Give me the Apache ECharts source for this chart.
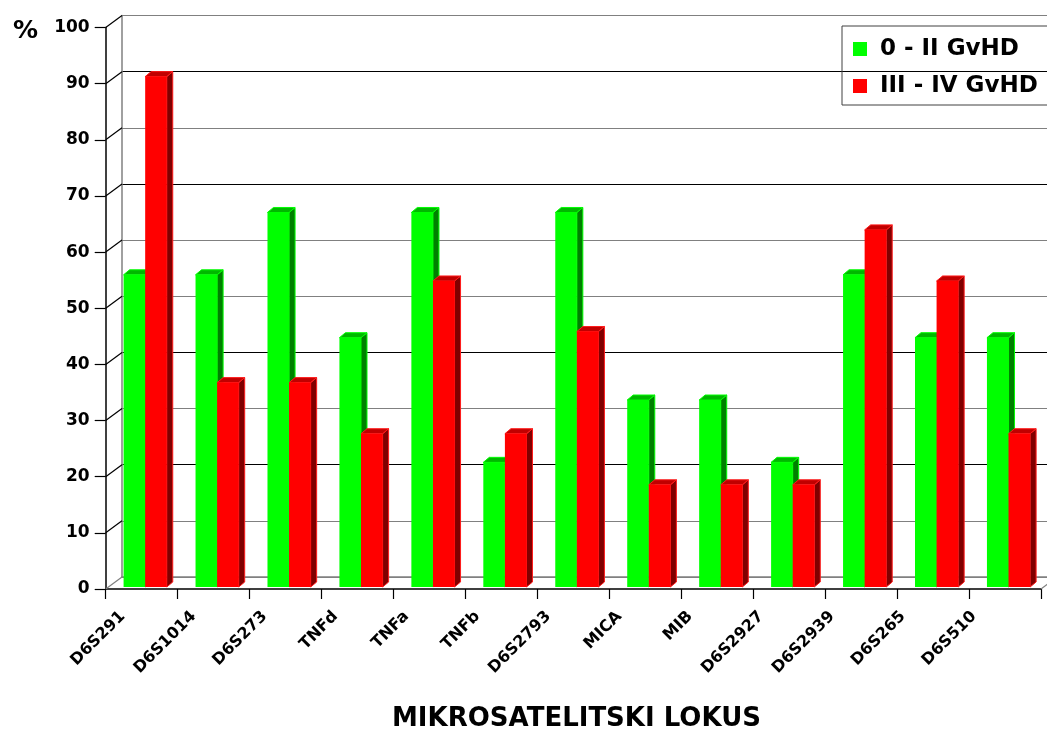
<!DOCTYPE html>
<html>
<head>
<meta charset="utf-8">
<title>Mikrosatelitski lokus</title>
<script src="https://cdn.jsdelivr.net/npm/echarts@6/dist/echarts.min.js"></script>
<style>
  html, body { margin: 0; padding: 0; background: #ffffff; }
  #chart { width: 1047px; height: 729px; }
</style>
</head>
<body>
<div id="chart"></div>
<script>
// Loci on the horizontal axis
const categories = ['D6S291', 'D6S1014', 'D6S273', 'TNFd', 'TNFa', 'TNFb', 'D6S2793',
                    'MICA', 'MIB', 'D6S2927', 'D6S2939', 'D6S265', 'D6S510'];
// Percentages per group
const gvhdLow  = [55.6, 55.6, 66.7, 44.4, 66.7, 22.2, 66.7, 33.3, 33.3, 22.2, 55.6, 44.4, 44.4];
const gvhdHigh = [90.9, 36.4, 36.4, 27.3, 54.5, 27.3, 45.5, 18.2, 18.2, 18.2, 63.6, 54.5, 27.3];
const seriesNames = ['0 - II GvHD', 'III - IV GvHD'];
// Value axis ticks
const yTicks = [0, 10, 20, 30, 40, 50, 60, 70, 80, 90, 100];

// Pseudo-3D geometry (pixels)
const FRONT = { left: 105.7, top: 27.5, width: 935.3, height: 561.5 };
const WALL_DEPTH = [16.3, -12];     // front plane -> back wall
const BAR_SHIFT = [3.5, -2];        // bars sit slightly behind the front plane
const BAR_DEPTH = [6, -5];          // visible thickness of each bar
const BAR_FRACTION = 0.3;           // width of one bar relative to a category slot
const LABEL_SHIFT = 17;

const FONT = 'DejaVu Sans';

const palette = [
  { front: '#00ff00', top: '#00b800', side: '#008000', edge: '#00ff00' },
  { front: '#ff0000', top: '#c00000', side: '#800000', edge: '#ff1a1a' }
];

function barRenderer(slot) {
  const col = palette[slot];
  return function (params, api) {
    const i = api.value(0);
    const v = api.value(1);
    const base = api.coord([i + 0.5, 0]);
    const top = api.coord([i + 0.5, v]);
    const w = api.size([1, 0])[0] * BAR_FRACTION;
    const x0 = base[0] + (slot === 0 ? -w : 0) + BAR_SHIFT[0];
    const x1 = x0 + w;
    const yB = base[1] + BAR_SHIFT[1];
    const yT = top[1] + BAR_SHIFT[1];
    const dx = BAR_DEPTH[0], dy = BAR_DEPTH[1];
    return {
      type: 'group',
      children: [
        { type: 'polygon',
          shape: { points: [[x1, yT], [x1 + dx, yT + dy], [x1 + dx, yB + dy], [x1, yB]] },
          style: { fill: col.side, stroke: col.edge, lineWidth: 1 } },
        { type: 'polygon',
          shape: { points: [[x0, yT], [x0 + dx, yT + dy], [x1 + dx, yT + dy], [x1, yT]] },
          style: { fill: col.top, stroke: col.edge, lineWidth: 1 } },
        { type: 'rect',
          shape: { x: x0, y: yT, width: w, height: yB - yT },
          style: { fill: col.front } }
      ]
    };
  };
}

// Diagonal edges of the side wall and floor
function wallRenderer(params, api) {
  const p = api.coord([api.value(0), api.value(1)]);
  return {
    type: 'line',
    shape: { x1: p[0], y1: p[1], x2: p[0] + WALL_DEPTH[0], y2: p[1] + WALL_DEPTH[1] },
    style: { stroke: api.value(1) === 0 ? '#808080' : '#000000', lineWidth: 1.2 }
  };
}

const wallEdges = yTicks.map(v => [0, v]).concat([[categories.length, 0]]);

const chart = echarts.init(document.getElementById('chart'), null, { renderer: 'canvas' });

const option = {
  backgroundColor: '#ffffff',
  animation: false,
  title: [
    { text: '%', left: 8, top: 14,
      textStyle: { fontFamily: FONT, fontWeight: 'bold', fontSize: 25, color: '#000' } },
    { text: 'MIKROSATELITSKI LOKUS', left: 387, top: 701,
      textStyle: { fontFamily: FONT, fontWeight: 'bold', fontSize: 26, color: '#000' } }
  ],
  legend: {
    orient: 'vertical',
    left: 842, top: 26,
    padding: [11, 40, 7, 11],
    itemGap: 13,
    itemWidth: 14, itemHeight: 14,
    icon: 'rect',
    borderColor: '#404040', borderWidth: 1,
    data: seriesNames,
    textStyle: { fontFamily: FONT, fontWeight: 'bold', fontSize: 23, lineHeight: 24,
                 color: '#000', padding: [0, 0, 0, 8] }
  },
  grid: [
    // front plane: value axis and category ticks
    { left: FRONT.left, top: FRONT.top, width: FRONT.width, height: FRONT.height },
    // back wall with gridlines
    { left: FRONT.left + WALL_DEPTH[0], top: FRONT.top + WALL_DEPTH[1],
      width: FRONT.width, height: FRONT.height },
    // category names
    { left: FRONT.left + LABEL_SHIFT, top: FRONT.top, width: FRONT.width, height: FRONT.height }
  ],
  xAxis: [
    { gridIndex: 0, type: 'value', min: 0, max: categories.length, interval: 1,
      axisLine: { lineStyle: { color: '#000', width: 1.5 } },
      axisTick: { show: true, length: 10, lineStyle: { color: '#000', width: 1.2 } },
      axisLabel: { show: false }, splitLine: { show: false } },
    { gridIndex: 1, type: 'value', min: 0, max: categories.length, interval: 1,
      axisLine: { lineStyle: { color: '#808080', width: 1.5 } },
      axisTick: { show: false }, axisLabel: { show: false }, splitLine: { show: false } },
    { gridIndex: 2, type: 'value', min: 0, max: categories.length, interval: 1,
      axisLine: { show: false }, axisTick: { show: false }, splitLine: { show: false },
      axisLabel: { rotate: 45, margin: 25, fontFamily: FONT, fontWeight: 'bold', fontSize: 16,
                   color: '#000', formatter: v => categories[v] || '' } }
  ],
  yAxis: [
    { gridIndex: 0, type: 'value', min: yTicks[0], max: yTicks[yTicks.length - 1], interval: 10,
      axisLine: { show: true, lineStyle: { color: '#000', width: 1.5 } },
      axisTick: { show: true, length: 11, lineStyle: { color: '#000', width: 1.2 } },
      axisLabel: { margin: 16, fontFamily: FONT, fontWeight: 'bold', fontSize: 17, color: '#000' },
      splitLine: { show: false } },
    { gridIndex: 1, type: 'value', min: yTicks[0], max: yTicks[yTicks.length - 1], interval: 10,
      axisLine: { show: true, lineStyle: { color: '#808080', width: 1.5 } },
      axisTick: { show: false }, axisLabel: { show: false },
      splitLine: { show: true, lineStyle: { width: 1.2,
        color: ['#808080', '#808080', '#000000', '#808080', '#000000', '#808080',
                '#808080', '#000000', '#808080', '#000000', '#808080'] } } },
    { gridIndex: 2, type: 'value', min: 0, max: 100, show: false }
  ],
  series: [
    { name: 'walls', type: 'custom', xAxisIndex: 0, yAxisIndex: 0,
      data: wallEdges, renderItem: wallRenderer, silent: true, z: 1 },
    { name: seriesNames[0], type: 'custom', xAxisIndex: 0, yAxisIndex: 0,
      itemStyle: { color: palette[0].front },
      data: gvhdLow.map((v, i) => [i, v]), renderItem: barRenderer(0), z: 3 },
    { name: seriesNames[1], type: 'custom', xAxisIndex: 0, yAxisIndex: 0,
      itemStyle: { color: palette[1].front },
      data: gvhdHigh.map((v, i) => [i, v]), renderItem: barRenderer(1), z: 3 }
  ]
};

chart.setOption(option);
</script>
</body>
</html>
